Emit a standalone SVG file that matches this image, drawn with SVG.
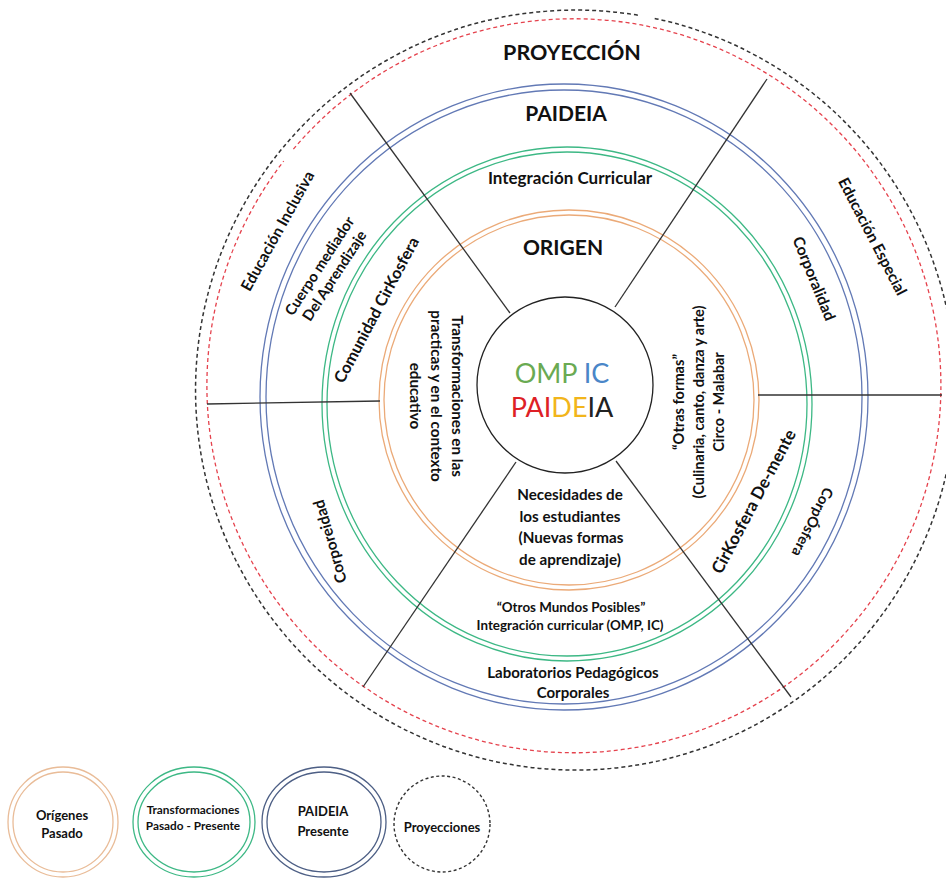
<svg xmlns="http://www.w3.org/2000/svg" width="946" height="878" viewBox="0 0 946 878">
<style>
.t{font-family:Lato,"Liberation Sans",sans-serif;font-weight:bold;fill:#111;text-anchor:middle}
.or{fill:none;stroke:#EBAA78;stroke-width:1.3}
.gr{fill:none;stroke:#3DB885;stroke-width:1.3}
.bl{fill:none;stroke:#6279B5;stroke-width:1.3}
.rd{fill:none;stroke:#E5424D;stroke-width:1.3;stroke-dasharray:4 3}
.bk{fill:none;stroke:#333;stroke-width:1.5;stroke-dasharray:4 3}
.ln{stroke:#333;stroke-width:1.3;fill:none}
</style>
<rect width="946" height="878" fill="#fff"/>

<g id="ring-proyeccion">
<path class="bk" d="M 654.7,18.4 A 380 380 0 1 1 639,15.4"/>
<path class="rd" d="M 293.4,149.1 A 367 367 0 1 1 283.7,161.1"/>
<text class="t" x="572" y="60" font-size="21.5">PROYECCIÓN</text>
<text class="t" font-size="15.5" transform="translate(277.5,231) rotate(-61)" y="5.4">Educación Inclusiva</text>
<text class="t" font-size="15.5" transform="translate(872.5,236.5) rotate(62.5)" y="5.4">Educación Especial</text>
</g>

<g id="ring-paideia">
<ellipse class="bl" cx="564" cy="397" rx="304" ry="313"/>
<ellipse class="bl" cx="564" cy="397" rx="298" ry="307"/>
<text class="t" x="566" y="121" font-size="21">PAIDEIA</text>
<text class="t" font-size="14.8" transform="translate(327,271) rotate(-57)"><tspan x="0" y="-3.8">Cuerpo mediador</tspan><tspan x="0" y="14">Del Aprendizaje</tspan></text>
<text class="t" font-size="15.5" transform="translate(814,278.5) rotate(68)" y="5.4">Corporalidad</text>
<text class="t" font-size="14.5" transform="translate(812.5,522) rotate(116.5)" y="5">CorpÓsfera</text>
<text class="t" font-size="15.5" transform="translate(330,541.5) rotate(-106)" y="5.4">Corporeidad</text>
<text class="t" font-size="15"><tspan x="573" y="677.5">Laboratorios Pedagógicos</tspan><tspan x="573" y="697.5">Corporales</tspan></text>
</g>

<g id="ring-transformaciones">
<ellipse class="gr" cx="567" cy="404" rx="245" ry="257"/>
<ellipse class="gr" cx="567" cy="404" rx="240" ry="252"/>
<text class="t" x="570" y="184" font-size="17">Integración Curricular</text>
<text class="t" font-size="16.2" transform="translate(376.5,310) rotate(-62)" y="5.6">Comunidad CirKosfera</text>
<text class="t" font-size="17" transform="translate(753.5,501.5) rotate(-62)" y="6">CirKosfera De-mente</text>
<text class="t" font-size="13.4"><tspan x="571" y="611.5">“Otros Mundos Posibles”</tspan><tspan x="570" y="629.5">Integración curricular (OMP, IC)</tspan></text>
</g>

<g id="ring-origen">
<circle class="or" cx="569" cy="400" r="190"/>
<circle class="or" cx="569" cy="400" r="185"/>
<text class="t" x="563" y="254.5" font-size="21">ORIGEN</text>
<text class="t" font-size="15.2" transform="translate(436,396) rotate(90)"><tspan x="0" y="-16">Transformaciones en las</tspan><tspan x="0" y="5.2">practicas y en el contexto</tspan><tspan x="0" y="26.2">educativo</tspan></text>
<text class="t" font-size="14.6" transform="translate(699,402) rotate(-90)"><tspan x="0" y="-15">“Otras formas”</tspan><tspan x="0" y="5">(Culinaria, canto, danza y arte)</tspan><tspan x="0" y="25">Circo - Malabar</tspan></text>
<text class="t" font-size="15.2"><tspan x="570" y="500">Necesidades de</tspan><tspan x="570" y="521.5">los estudiantes</tspan><tspan x="571" y="543">(Nuevas formas</tspan><tspan x="570" y="564.5">de aprendizaje)</tspan></text>
</g>

<g id="connectors">
<line class="ln" x1="350" y1="93" x2="510" y2="313"/>
<line class="ln" x1="767" y1="79" x2="615" y2="307"/>
<line class="ln" x1="207" y1="404" x2="380" y2="401"/>
<line class="ln" x1="758" y1="395" x2="942" y2="395"/>
<line class="ln" x1="516" y1="462" x2="363" y2="687"/>
<line class="ln" x1="616" y1="461" x2="791" y2="697"/>
</g>

<g id="centro">
<circle cx="565" cy="385" r="88" fill="#fff" stroke="#222" stroke-width="1.3"/>
<text x="562" y="383" font-size="27" style="font-family:Lato,'Liberation Sans',sans-serif;text-anchor:middle"><tspan fill="#6AAA52">OMP</tspan> <tspan fill="#4A86C8">IC</tspan></text>
<text x="562" y="417" font-size="27" style="font-family:Lato,'Liberation Sans',sans-serif;text-anchor:middle"><tspan fill="#DE1F26">PAI</tspan><tspan fill="#F2B51B">DE</tspan><tspan fill="#222">IA</tspan></text>
</g>

<g id="legend-origenes">
<circle cx="63" cy="822" r="55" fill="none" stroke="#E9BC98" stroke-width="1.3"/>
<circle cx="63" cy="822" r="50" fill="none" stroke="#E9BC98" stroke-width="1.3"/>
<text class="t" font-size="13"><tspan x="62" y="820">Orígenes</tspan><tspan x="62" y="838">Pasado</tspan></text>
</g>
<g id="legend-transformaciones">
<ellipse class="gr" cx="194" cy="822" rx="61" ry="55"/>
<ellipse class="gr" cx="194" cy="822" rx="56" ry="50"/>
<text class="t" font-size="11.8"><tspan x="193" y="814">Transformaciones</tspan><tspan x="193" y="829.5">Pasado - Presente</tspan></text>
</g>
<g id="legend-paideia">
<ellipse cx="324" cy="822" rx="62" ry="55" fill="none" stroke="#4D5F85" stroke-width="1.3"/>
<ellipse cx="324" cy="822" rx="57" ry="50" fill="none" stroke="#4D5F85" stroke-width="1.3"/>
<text class="t" font-size="13"><tspan x="323" y="816">PAIDEIA</tspan><tspan x="323" y="835.5">Presente</tspan></text>
</g>
<g id="legend-proyecciones">
<circle cx="442" cy="824" r="48" fill="none" stroke="#333" stroke-width="1.4" stroke-dasharray="3 2.5"/>
<text class="t" x="442" y="832" font-size="13">Proyecciones</text>
</g>
</svg>
